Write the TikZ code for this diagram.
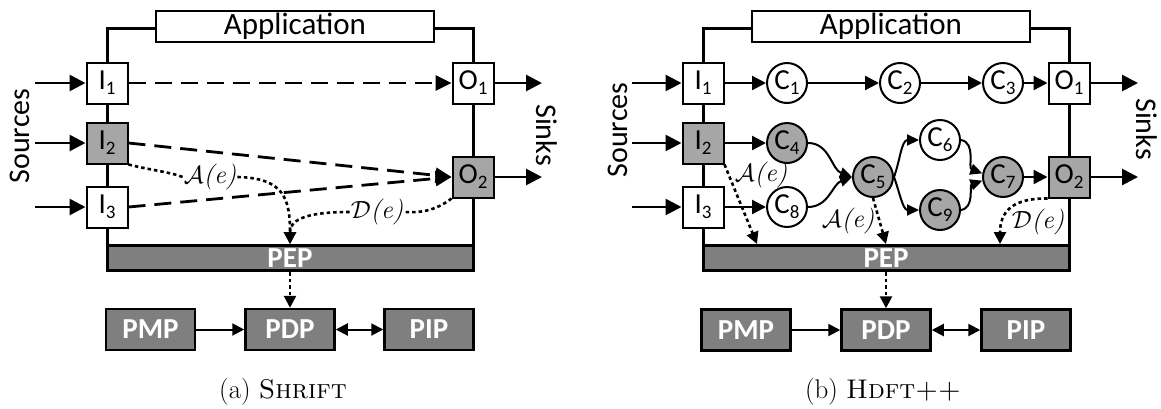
\documentclass[tikz,border=0pt]{standalone}
\usepackage{fontspec}
\newfontfamily\cb{Carlito}
\usetikzlibrary{arrows.meta}
\definecolor{lgray}{RGB}{166,166,166}
\definecolor{dgray}{RGB}{127,127,127}
\newcommand\lsub[1]{\raisebox{-5pt}{\fontsize{19}{19}\selectfont #1}}
\newcommand\lblx[1]{$\mathcal{#1}$\textit{(e)}}
\begin{document}
\begin{tikzpicture}[x=1pt,y=-1pt,
  frame/.style={line width=3pt},
  appbox/.style={draw, line width=2pt, fill=white, minimum width=278pt, minimum height=31pt, inner sep=0pt, font=\cb\fontsize{31}{31}\selectfont},
  iobox/.style={draw, line width=2pt, fill=white, minimum width=41pt, minimum height=41pt, inner sep=0pt, font=\cb\fontsize{29}{29}\selectfont},
  cnode/.style={circle, draw, line width=2pt, fill=white, minimum size=40pt, inner sep=0pt, font=\cb\fontsize{29}{29}\selectfont},
  shaded/.style={fill=lgray},
  pepbar/.style={draw, line width=3pt, fill=dgray, minimum width=366pt, minimum height=25pt, inner sep=0pt, text=white, font=\cb\bfseries\fontsize{29}{29}\selectfont},
  pbox/.style={draw, line width=2.5pt, fill=dgray, minimum width=89pt, minimum height=41pt, inner sep=0pt, text=white, font=\cb\bfseries\fontsize{29}{29}\selectfont},
  side/.style={font=\cb\fontsize{30}{30}\selectfont},
  lbl/.style={inner sep=1pt, font=\fontsize{26}{26}\selectfont},
  captext/.style={font=\fontsize{27}{27}\selectfont},
  bigarr/.style={line width=2.8pt, -{Triangle[length=16pt,width=16pt]}},
  midarr/.style={line width=2.3pt, -{Triangle[length=14pt,width=14pt]}},
  curvarr/.style={line width=2pt, -{Triangle[length=12pt,width=11pt]}},
  smallarr/.style={line width=2pt, -{Triangle[length=12pt,width=12pt]}},
  dblarr/.style={line width=2pt, {Triangle[length=12pt,width=12pt]}-{Triangle[length=12pt,width=12pt]}},
  dashl/.style={line width=2.8pt, dash pattern=on 17pt off 9pt},
  dotl/.style={line width=2.6pt, dash pattern=on 3.5pt off 3pt},
  dotarr/.style={-{Triangle[length=12pt,width=12pt]}}
]
\useasboundingbox (0,0) rectangle (1161,408);

%================ LEFT PANEL (a) ================
\draw[frame] (107,244) -- (107,28) -- (473,28) -- (473,244);
\node[appbox] (aApp) at (295,26.5) {Application};

\node[iobox] (aI1) at (107,83) {I\lsub{1}};
\node[iobox,shaded] (aI2) at (107,143) {I\lsub{2}};
\node[iobox] (aI3) at (107,207) {I\lsub{3}};
\node[iobox] (aO1) at (473,83) {O\lsub{1}};
\node[iobox,shaded] (aO2) at (473,177) {O\lsub{2}};

\node[pepbar] (aPEP) at (290,258) {PEP};
\node[pbox] (aPMP) at (150.5,329.5) {PMP};
\node[pbox] (aPDP) at (290,329.5) {PDP};
\node[pbox] (aPIP) at (429,329.5) {PIP};

\node[side, rotate=90] (aSrc) at (20,136) {Sources};
\node[side, rotate=-90] (aSnk) at (547,135) {Sinks};

\coordinate (aS1) at (35,83);
\coordinate (aS2) at (35,143);
\coordinate (aS3) at (35,207);
\coordinate (aK1) at (542,83);
\coordinate (aK2) at (542,177);
\draw[bigarr] (aS1) -- (aI1);
\draw[bigarr] (aS2) -- (aI2);
\draw[bigarr] (aS3) -- (aI3);
\draw[bigarr] (aO1) -- (aK1);
\draw[bigarr] (aO2) -- (aK2);

\draw[dashl, -{Triangle[length=16pt,width=15pt]}] (aI1.east) -- (aO1.west);
\draw[dashl, -{Triangle[length=16pt,width=15pt]}] (aI2.east) -- (aO2.west);
\draw[dashl, -{Triangle[length=16pt,width=15pt]}] (aI3.east) -- (aO2.west);

\node[lbl] (aLA) at (210,177) {\lblx{A}};
\node[lbl] (aLD) at (377,212) {\lblx{D}};
\draw[dotl] (aI2.south east) .. controls (150,170) and (170,172) .. (aLA.west);
\draw[dotl, dotarr] (aLA.east) .. controls (285,178) and (290,200) .. (aPEP.north);
\draw[dotl] (aO2.south west) .. controls (435,211) and (420,213) .. (aLD.east);
\draw[dotl, dotarr] (aLD.west) .. controls (300,212) and (290,222) .. (aPEP.north);

\draw[dotl, dotarr] (aPEP.south) -- (aPDP.north);
\draw[smallarr] (aPMP) -- (aPDP);
\draw[dblarr] (aPDP) -- (aPIP);

\node[captext] (aCap) at (283,392) {(a) \textsc{Shrift}};

%================ RIGHT PANEL (b) ================
\draw[frame] (703,244) -- (703,28) -- (1069,28) -- (1069,244);
\node[appbox] (bApp) at (891,26.5) {Application};

\node[iobox] (bI1) at (703,83) {I\lsub{1}};
\node[iobox,shaded] (bI2) at (703,143) {I\lsub{2}};
\node[iobox] (bI3) at (703,207) {I\lsub{3}};
\node[iobox] (bO1) at (1069,83) {O\lsub{1}};
\node[iobox,shaded] (bO2) at (1069,177) {O\lsub{2}};

\node[cnode] (C1) at (787,83) {C\lsub{1}};
\node[cnode] (C2) at (900,83) {C\lsub{2}};
\node[cnode] (C3) at (1003,83) {C\lsub{3}};
\node[cnode,shaded] (C4) at (787,143) {C\lsub{4}};
\node[cnode,shaded] (C5) at (873,177) {C\lsub{5}};
\node[cnode] (C6) at (940,140) {C\lsub{6}};
\node[cnode,shaded] (C7) at (1003,177) {C\lsub{7}};
\node[cnode] (C8) at (787,207) {C\lsub{8}};
\node[cnode,shaded] (C9) at (940,210) {C\lsub{9}};

\node[pepbar] (bPEP) at (886,258) {PEP};
\node[pbox] (bPMP) at (746,330) {PMP};
\node[pbox] (bPDP) at (886,330) {PDP};
\node[pbox] (bPIP) at (1026,330) {PIP};

\node[side, rotate=90] (bSrc) at (618,130) {Sources};
\node[side, rotate=-90] (bSnk) at (1147,129) {Sinks};

\coordinate (bS1) at (632,83);
\coordinate (bS2) at (632,143);
\coordinate (bS3) at (632,207);
\coordinate (bK1) at (1138,83);
\coordinate (bK2) at (1138,177);
\draw[bigarr] (bS1) -- (bI1);
\draw[bigarr] (bS2) -- (bI2);
\draw[bigarr] (bS3) -- (bI3);
\draw[bigarr] (bO1) -- (bK1);
\draw[bigarr] (bO2) -- (bK2);

\draw[midarr] (bI1) -- (C1);
\draw[midarr] (bI2) -- (C4);
\draw[midarr] (bI3) -- (C8);
\draw[midarr] (C1) -- (C2);
\draw[midarr] (C2) -- (C3);
\draw[midarr] (C3) -- (bO1);
\draw[midarr] (C7) -- (bO2);

\draw[curvarr] (C4.east) to[out=0,in=160] (C5.west);
\draw[curvarr] (C8.east) to[out=0,in=200] (C5.west);
\draw[curvarr] (C5.east) to[out=70,in=180] (C6.west);
\draw[curvarr] (C5.east) to[out=-70,in=180] (C9.west);
\draw[curvarr] (C6.east) to[out=-10,in=160] (C7.170);
\draw[curvarr] (C9.east) to[out=10,in=200] (C7.190);

\coordinate (bP1) at (757,244);
\coordinate (bP2) at (886,244);
\coordinate (bP3) at (1000,244);
\draw[dotl, dotarr] (bI2.south east) -- (bP1);
\draw[dotl, dotarr] (C5.south) -- (bP2);
\draw[dotl, dotarr] (bO2.south west) .. controls (1012,198) and (1000,212) .. (bP3);
\node[lbl] (bLA1) at (761,175) {\lblx{A}};
\node[lbl] (bLA2) at (848,221) {\lblx{A}};
\node[lbl] (bLD) at (1038,222) {\lblx{D}};

\draw[dotl, dotarr] (bPEP.south) -- (bPDP.north);
\draw[smallarr] (bPMP) -- (bPDP);
\draw[dblarr] (bPDP) -- (bPIP);

\node[captext] (bCap) at (883,392) {(b) \textsc{Hdft++}};
\end{tikzpicture}
\end{document}
